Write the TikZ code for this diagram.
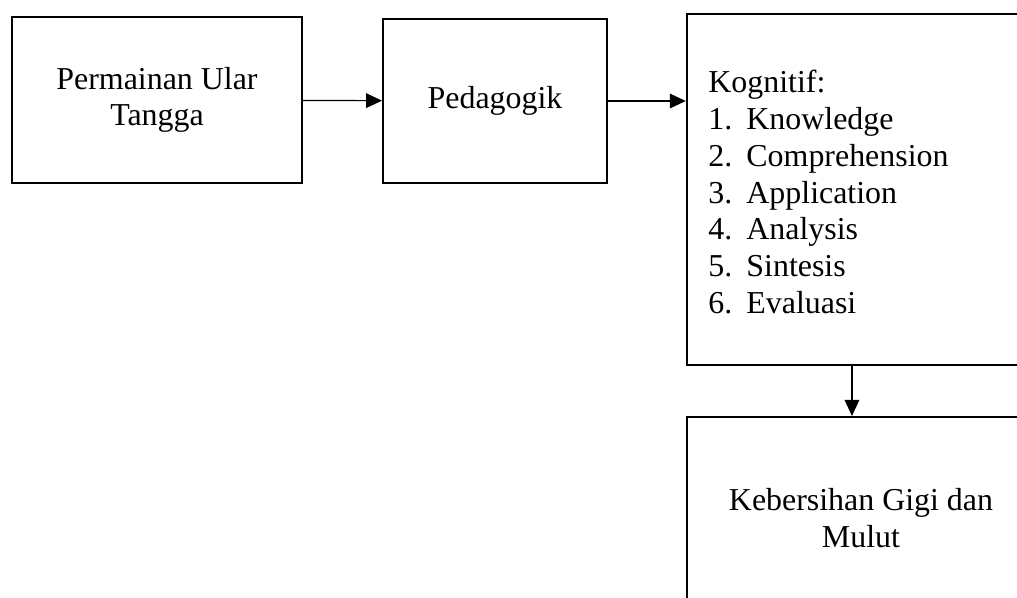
\documentclass[tikz,border=0pt]{standalone}
\usepackage{fontspec}
\setmainfont{Liberation Serif}
\usepackage{tikz}
\usetikzlibrary{positioning,arrows.meta}

\begin{document}
\begin{tikzpicture}[x=0.376pt, y=-0.376pt,
    font=\fontsize{12}{13.8}\selectfont,
    block/.style={rectangle, draw, line width=0.75pt, inner sep=0pt, align=center},
    arr/.style={-{Triangle[length=6pt,width=5.5pt]}, line width=0.45pt}]
    \useasboundingbox (0,0) rectangle (1017,597);
    \clip (0,0) rectangle (1017,597);
    \node[block, minimum width=109pt, minimum height=62.4pt] (game) at (157,100) {Permainan Ular\\Tangga};
    \node[block, minimum width=84.2pt, minimum height=61.7pt] (pedagogik) at (495,101) {Pedagogik};
    \node[block, minimum width=131pt, minimum height=132pt] (kognitif) at (861,189.5) {};
    \node[anchor=north west, align=left, inner sep=0pt] (kogtext) at ([xshift=8.3pt,yshift=-21.4pt]kognitif.north west)
        {Kognitif:\\
         \makebox[14.3pt][l]{1.}Knowledge\\
         \makebox[14.3pt][l]{2.}Comprehension\\
         \makebox[14.3pt][l]{3.}Application\\
         \makebox[14.3pt][l]{4.}Analysis\\
         \makebox[14.3pt][l]{5.}Sintesis\\
         \makebox[14.3pt][l]{6.}Evaluasi};
    \node[block, minimum width=131pt, minimum height=76pt] (kebersihan) at (861,518) {Kebersihan Gigi dan\\Mulut};
    \draw[arr] (game) -- (pedagogik);
    \draw[arr] (pedagogik) -- (pedagogik -| kognitif.west);
    \draw[arr] ([xshift=-3.4pt]kognitif.south) -- ([xshift=-3.4pt]kebersihan.north);
\end{tikzpicture}
\end{document}
